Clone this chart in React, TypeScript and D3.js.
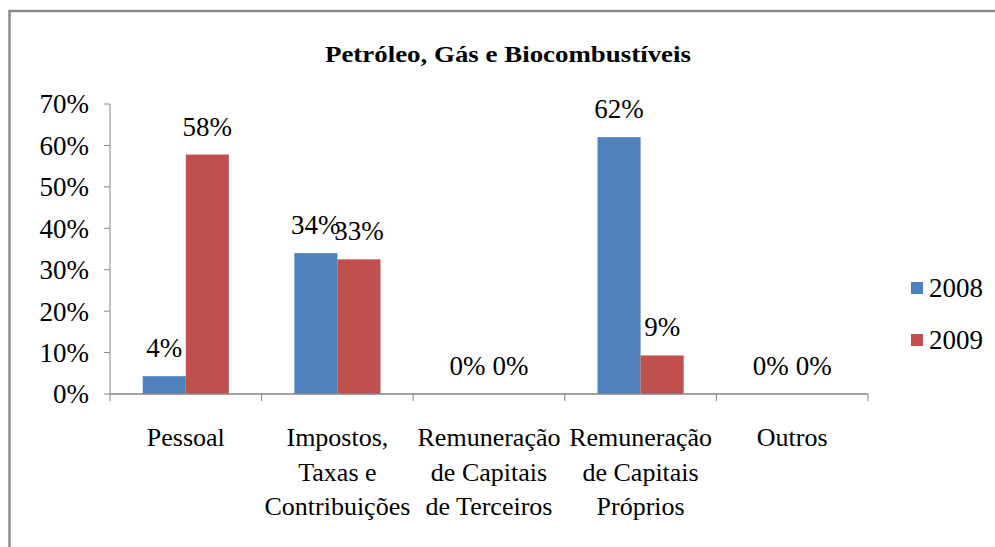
import React from "react";
import * as d3 from "d3";

const categories = [
  ["Pessoal"],
  ["Impostos,", "Taxas e", "Contribuições"],
  ["Remuneração", "de Capitais", "de Terceiros"],
  ["Remuneração", "de Capitais", "Próprios"],
  ["Outros"],
];
const seriesNames = ["2008", "2009"];
const values2008 = [4.3, 34, 0, 62, 0];
const values2009 = [57.8, 32.5, 0, 9.3, 0];
const labels2008 = ["4%", "34%", "0%", "62%", "0%"];
const labels2009 = ["58%", "33%", "0%", "9%", "0%"];
const yTicks = [0, 10, 20, 30, 40, 50, 60, 70];
const colors = ["#4F81BD", "#C0504D"];
const title = "Petróleo, Gás e Biocombustíveis";

export default function App() {
  const W = 995, H = 547;
  const left = 110, right = 868, top = 104, bottom = 394;
  const font = "Liberation Serif, Times New Roman, DejaVu Serif, serif";
  const x = d3.scaleBand<number>().domain(d3.range(categories.length)).range([left, right]).paddingInner(0).paddingOuter(0);
  const y = d3.scaleLinear().domain([0, 70]).range([bottom, top]);
  const bw = x.bandwidth();
  const barW = bw * 0.284;
  const series = [values2008, values2009];
  const labels = [labels2008, labels2009];

  return (
    <svg width={W} height={H} style={{ position: "absolute", left: 0, top: 0, background: "#fff", fontFamily: font }}>
      <rect x={0} y={0} width={W} height={H} fill="#fff" />
      <path d={`M9.5,${H} V11 H${W}`} fill="none" stroke="#8c8c8c" strokeWidth={2.5} />
      <text x={508} y={62} textAnchor="middle" fontSize={24} fontWeight="bold" textLength={366} lengthAdjust="spacingAndGlyphs">{title}</text>

      {/* y axis */}
      <line x1={left} x2={left} y1={top} y2={bottom} stroke="#868686" strokeWidth={1} />
      {yTicks.map((t) => (
        <g key={t}>
          <line x1={left - 6} x2={left} y1={y(t)} y2={y(t)} stroke="#868686" />
          <text x={89} y={y(t)} dy="0.35em" textAnchor="end" fontSize={27}>{t}%</text>
        </g>
      ))}

      {/* bars */}
      {series.map((vals, s) =>
        vals.map((v, i) => {
          const cx = (x(i) as number) + bw / 2;
          const bx = s === 0 ? cx - barW : cx;
          return (
            <g key={`${s}-${i}`}>
              {v > 0 && <rect x={bx} y={y(v)} width={barW} height={bottom - y(v)} fill={colors[s]} />}
              <text x={bx + barW / 2} y={y(v) - 19} textAnchor="middle" fontSize={27}>{labels[s][i]}</text>
            </g>
          );
        })
      )}

      {/* x axis */}
      <line x1={left} x2={right} y1={bottom} y2={bottom} stroke="#868686" strokeWidth={1.5} />
      {d3.range(categories.length + 1).map((i) => {
        const xx = left + i * bw;
        return <line key={i} x1={xx} x2={xx} y1={bottom} y2={bottom + 7} stroke="#868686" />;
      })}
      {categories.map((lines, i) => (
        <text key={i} textAnchor="middle" fontSize={26}>
          {lines.map((ln, j) => (
            <tspan key={j} x={(x(i) as number) + bw / 2} y={446 + j * 34.5}>{ln}</tspan>
          ))}
        </text>
      ))}

      {/* legend */}
      {seriesNames.map((n, i) => (
        <g key={n}>
          <rect x={911} y={282 + i * 52} width={12} height={12} fill={colors[i]} />
          <text x={929} y={288 + i * 52} dy="0.35em" fontSize={27}>{n}</text>
        </g>
      ))}
    </svg>
  );
}
